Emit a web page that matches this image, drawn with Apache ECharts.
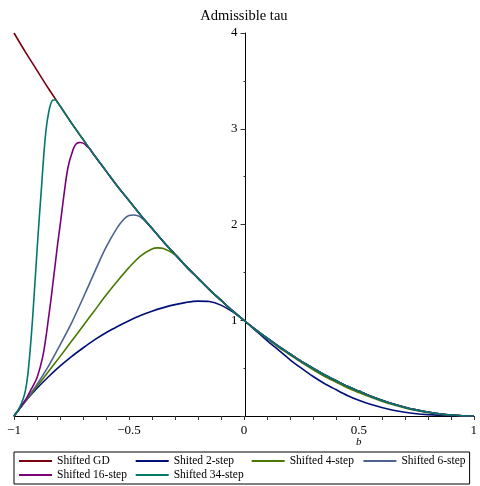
<!DOCTYPE html>
<html>
<head>
<meta charset="utf-8">
<title>Admissible tau</title>
<script src="https://cdn.jsdelivr.net/npm/echarts@6/dist/echarts.min.js"></script>
<style>
  html, body { margin: 0; padding: 0; background: #ffffff; }
  #chart { width: 480px; height: 486px; }
</style>
</head>
<body>
<div id="chart"></div>
<script>
// Shifted GD: the upper envelope, sampled every 0.05 in b
const bGD = [-1, -0.95, -0.9, -0.85, -0.8, -0.75, -0.7, -0.65, -0.6, -0.55, -0.5, -0.45, -0.4, -0.35, -0.3, -0.25, -0.2, -0.15, -0.1, -0.05,
  0, 0.05, 0.1, 0.15, 0.2, 0.25, 0.3, 0.35, 0.4, 0.45, 0.5, 0.55, 0.6, 0.65, 0.7, 0.75, 0.8, 0.85, 0.9, 0.95, 1];
const tauGD = [4, 3.80, 3.61, 3.42, 3.24, 3.06, 2.89, 2.72, 2.56, 2.40, 2.25, 2.10, 1.96, 1.82, 1.69, 1.56, 1.44, 1.32, 1.21, 1.10,
  1, 0.905, 0.815, 0.73, 0.65, 0.57, 0.50, 0.43, 0.37, 0.31, 0.26, 0.21, 0.165, 0.125, 0.092, 0.064, 0.041, 0.023, 0.01, 0.003, 0];

// Shited 2-step
const b2 = [-1, -0.95, -0.9, -0.85, -0.8, -0.75, -0.7, -0.65, -0.6, -0.55, -0.5, -0.45, -0.4, -0.35, -0.3, -0.25, -0.2, -0.15, -0.1, -0.05,
  0, 0.05, 0.1, 0.15, 0.2, 0.25, 0.3, 0.35, 0.4, 0.45, 0.5, 0.55, 0.6, 0.65, 0.7, 0.75, 0.8, 0.85, 0.9, 0.95, 1];
const tau2 = [0, 0.155, 0.29, 0.41, 0.52, 0.62, 0.71, 0.795, 0.87, 0.935, 0.995, 1.05, 1.095, 1.132, 1.163, 1.187, 1.2, 1.195, 1.158, 1.09,
  1, 0.895, 0.79, 0.69, 0.59, 0.50, 0.415, 0.34, 0.276, 0.215, 0.164, 0.122, 0.088, 0.06, 0.039, 0.024, 0.014, 0.007, 0.003, 0.001, 0];

// Shifted 4-step
const b4 = [-1, -0.95, -0.9, -0.85, -0.8, -0.75, -0.7, -0.65, -0.6, -0.55, -0.5, -0.45, -0.4, -0.375, -0.35, -0.3, -0.25, -0.2, -0.15, -0.1, -0.05,
  0, 0.05, 0.1, 0.15, 0.2, 0.25, 0.3, 0.35, 0.4, 0.45, 0.5, 0.55, 0.6, 0.65, 0.7, 0.75, 0.8, 0.85, 0.9, 0.95, 1];
const tau4 = [0, 0.155, 0.31, 0.465, 0.62, 0.78, 0.94, 1.10, 1.26, 1.41, 1.55, 1.67, 1.745, 1.756, 1.75, 1.685, 1.56, 1.44, 1.32, 1.21, 1.10,
  1, 0.90, 0.81, 0.72, 0.64, 0.56, 0.485, 0.415, 0.355, 0.295, 0.245, 0.198, 0.155, 0.117, 0.085, 0.058, 0.037, 0.02, 0.008, 0.002, 0];

// Shifted 6-step: rising part, then it runs along the envelope from b = -0.35
const b6Rise = [-1, -0.95, -0.9, -0.85, -0.8, -0.75, -0.7, -0.65, -0.6, -0.55, -0.52, -0.5, -0.48, -0.46, -0.44, -0.42, -0.4];
const tau6Rise = [0, 0.16, 0.33, 0.52, 0.74, 0.97, 1.23, 1.50, 1.76, 1.97, 2.06, 2.095, 2.10, 2.09, 2.06, 2.015, 1.96];

// Shifted 16-step: rising part, then along the envelope from b = -0.65
const b16Rise = [-1, -0.95, -0.925, -0.9, -0.875, -0.86, -0.85, -0.84, -0.83, -0.82, -0.81, -0.8, -0.79, -0.78, -0.77, -0.76, -0.75,
  -0.74, -0.73, -0.72, -0.71, -0.7, -0.69, -0.68, -0.67];
const tau16Rise = [0, 0.17, 0.28, 0.40, 0.62, 0.84, 1.02, 1.20, 1.40, 1.60, 1.80, 1.98, 2.17, 2.36, 2.53, 2.65, 2.73,
  2.80, 2.84, 2.855, 2.857, 2.85, 2.835, 2.81, 2.79];

// Shifted 34-step: rising part, then along the envelope from b = -0.75
const b34Rise = [-1, -0.98, -0.96, -0.95, -0.94, -0.93, -0.92, -0.91, -0.9, -0.89, -0.88, -0.87, -0.86, -0.85, -0.84, -0.83, -0.82, -0.81, -0.8];
const tau34Rise = [0, 0.07, 0.18, 0.27, 0.43, 0.68, 0.99, 1.35, 1.72, 2.07, 2.40, 2.74, 3.00, 3.16, 3.26, 3.30, 3.30, 3.27, 3.24];

// axis tick labels
const bTickValues = [-1, -0.5, 0, 0.5, 1];
const bTickLabels = ['\u22121', '\u22120.5', '0', '0.5', '1'];
const tauTickValues = [1, 2, 3, 4];
const tauTickLabels = ['1', '2', '3', '4'];

const seriesNames = ['Shifted GD', 'Shited 2-step', 'Shifted 4-step', 'Shifted 6-step', 'Shifted 16-step', 'Shifted 34-step'];
const seriesColors = ['#78000E', '#000E78', '#4A7800', '#4E6290', '#7A0078', '#00786A'];

function pairs(xs, ys) {
  return xs.map((x, i) => [x, ys[i]]);
}
// a rising part followed by the envelope samples beyond its last b
function withEnvelope(xs, ys) {
  const last = xs[xs.length - 1];
  const pts = pairs(xs, ys);
  bGD.forEach((x, i) => { if (x > last + 1e-9) pts.push([x, tauGD[i]]); });
  return pts;
}

const seriesData = [
  pairs(bGD, tauGD),
  pairs(b2, tau2),
  pairs(b4, tau4),
  withEnvelope(b6Rise, tau6Rise),
  withEnvelope(b16Rise, tau16Rise),
  withEnvelope(b34Rise, tau34Rise)
];

const FONT = '"Liberation Serif", "Times New Roman", serif';
const GRID_LEFT = 14, GRID_RIGHT = 3;
const W = 480;
// the tau axis stands at b = 0, half way across the plot
const tauAxisOffset = -((W - GRID_LEFT - GRID_RIGHT) / 2);

const chart = echarts.init(document.getElementById('chart'), null, { renderer: 'canvas' });

function labelFor(values, labels) {
  return function (v) {
    for (let i = 0; i < values.length; i++) {
      if (Math.abs(values[i] - v) < 1e-9) return labels[i];
    }
    return '';
  };
}

const option = {
  animation: false,
  backgroundColor: '#ffffff',
  grid: { left: GRID_LEFT, right: GRID_RIGHT, top: 33, bottom: 70, containLabel: false },
  xAxis: {
    type: 'value',
    min: -1, max: 1, interval: 0.1,
    axisLine: { onZero: false, lineStyle: { color: '#000', width: 1 } },
    axisTick: { show: true, length: 4, lineStyle: { color: '#333' } },
    axisLabel: {
      show: true, margin: 8, color: '#000', fontFamily: FONT, fontSize: 13,
      formatter: labelFor(bTickValues, bTickLabels),
      showMinLabel: true, showMaxLabel: true, hideOverlap: false
    },
    splitLine: { show: false }
  },
  yAxis: {
    type: 'value',
    position: 'left',
    offset: tauAxisOffset,
    min: 0, max: 4, interval: 1,
    axisLine: { onZero: false, lineStyle: { color: '#000', width: 1 } },
    axisTick: { show: true, length: 5, lineStyle: { color: '#333' } },
    minorTick: { show: true, splitNumber: 2, length: 2, lineStyle: { color: '#333' } },
    axisLabel: {
      show: true, margin: 8, color: '#000', fontFamily: FONT, fontSize: 13,
      formatter: labelFor(tauTickValues, tauTickLabels)
    },
    splitLine: { show: false }
  },
  legend: {
    left: 14, top: 452,
    width: 458,
    orient: 'horizontal',
    padding: [2, 4, 2, 4],
    itemGap: 0,
    itemWidth: 33, itemHeight: 10,
    borderColor: '#000', borderWidth: 1,
    itemStyle: { opacity: 0, borderWidth: 0 },
    textStyle: { color: '#000', fontFamily: FONT, fontSize: 11.5, lineHeight: 14 },
    data: [
      { name: seriesNames[0], textStyle: { width: 77.7 } },
      { name: seriesNames[1], textStyle: { width: 77 } },
      { name: seriesNames[2], textStyle: { width: 72.7 } },
      { name: seriesNames[3] },
      { name: seriesNames[4], textStyle: { width: 77.7 } },
      { name: seriesNames[5] }
    ]
  },
  series: seriesNames.map((name, i) => ({
    name: name,
    type: 'line',
    data: seriesData[i],
    symbol: 'none',
    smooth: 0.3,
    clip: true,
    lineStyle: { color: seriesColors[i], width: 1.6 },
    itemStyle: { color: seriesColors[i] },
    z: 2 + i
  }))
};

chart.setOption(option);

// title over the tau axis and the b axis caption
const top0 = chart.convertToPixel({ xAxisIndex: 0, yAxisIndex: 0 }, [0, 4]);
const capPos = chart.convertToPixel({ xAxisIndex: 0, yAxisIndex: 0 }, [0.5, 0]);
chart.setOption({
  graphic: [
    {
      type: 'text', x: top0[0], y: 16,
      style: { text: 'Admissible tau', fill: '#000', font: '14.5px ' + FONT, textAlign: 'center', textVerticalAlign: 'middle' }
    },
    {
      type: 'text', x: capPos[0], y: 442,
      style: { text: 'b', fill: '#000', font: 'italic 11px ' + FONT, textAlign: 'center', textVerticalAlign: 'middle' }
    }
  ]
});
</script>
</body>
</html>
